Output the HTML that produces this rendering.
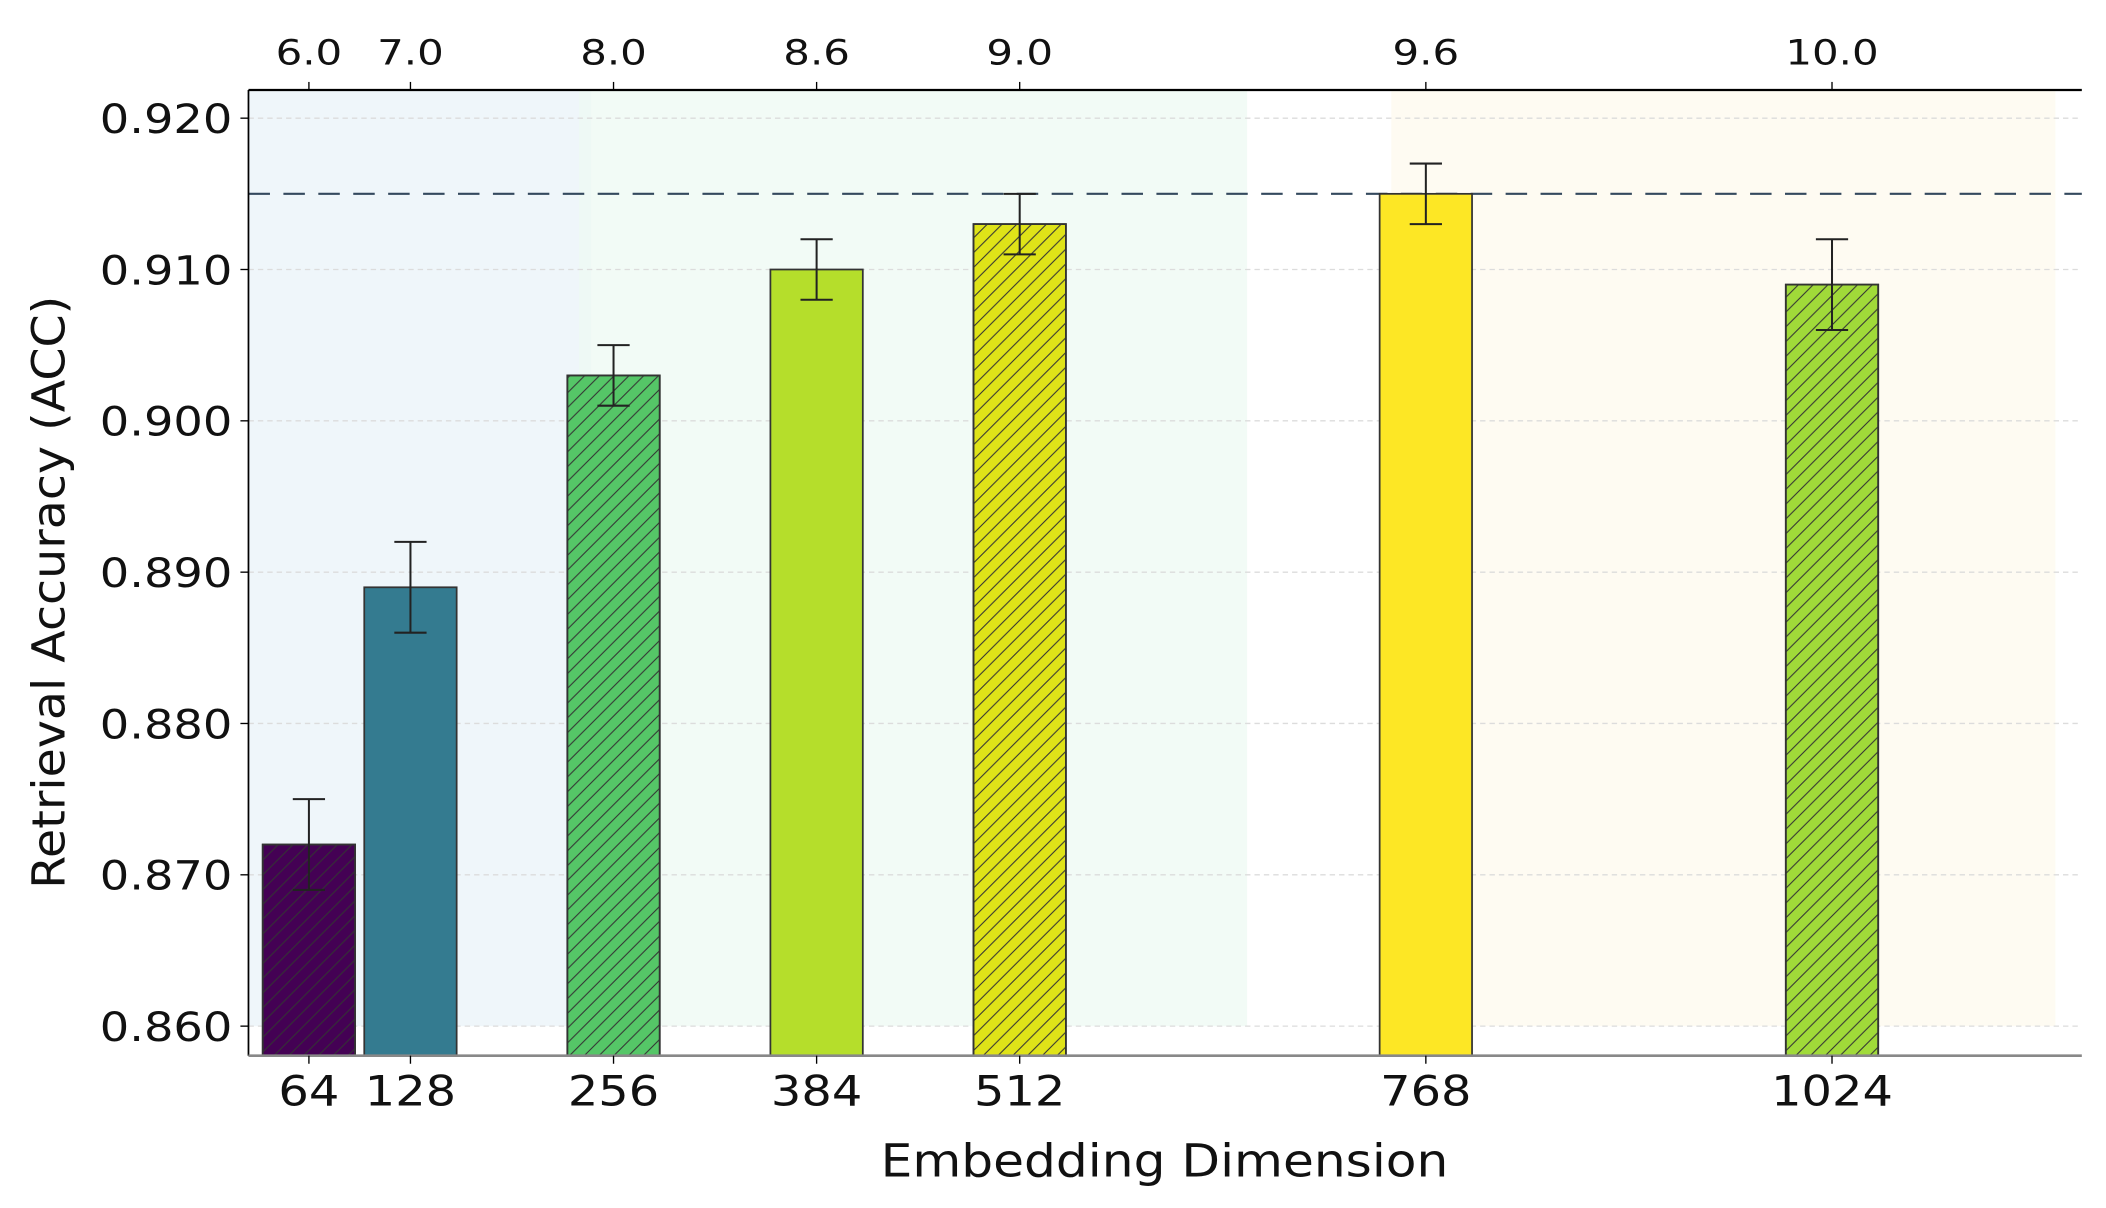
<!DOCTYPE html>
<html><head><meta charset="utf-8"><style>
html,body{margin:0;padding:0;background:#fff;}
svg{display:block;font-family:"DejaVu Sans","Liberation Sans",sans-serif;}
</style></head><body>
<svg id="chart" width="2106" height="1208" viewBox="0 0 1568 899.4" xmlns="http://www.w3.org/2000/svg">
<defs>
<pattern id="hatch" patternUnits="userSpaceOnUse" width="11" height="11">
<path d="M-1,1 l2,-2 M0,11 l11,-11 M10,12 l2,-2" stroke="#333" stroke-width="0.8"/>
</pattern>
</defs>
<g id="regions"></g>
<g id="grid"></g>
<g id="bars"></g>
<g id="axes"></g>
</svg>
<script>
const dims = [64, 128, 256, 384, 512, 768, 1024];
const accValues = [0.872, 0.889, 0.903, 0.910, 0.913, 0.915, 0.909];
const accErrors = [0.003, 0.003, 0.002, 0.002, 0.002, 0.002, 0.003];
const topLabels = ["6.0", "7.0", "8.0", "8.6", "9.0", "9.6", "10.0"];
const yTicks = [0.860, 0.870, 0.880, 0.890, 0.900, 0.910, 0.920];
const colors = ["#440154", "#347b90", "#55c667", "#b5de2b", "#dfe318", "#fde725", "#a0da39"];
const hatched = [true, false, true, false, true, false, true];
const refLine = 0.915;

const NS = "http://www.w3.org/2000/svg";
const L = 185, R = 1550, T = 67, B = 786;
const xUnit = 75.6, x0 = 230;
function xs(d) { return x0 + (d / 64 - 1) * xUnit; }
function ys(v) { return 764 - (v - 0.86) / 0.01 * 112.67; }
function mk(tag, attrs, parent) {
  const e = document.createElementNS(NS, tag);
  for (const k in attrs) e.setAttribute(k, attrs[k]);
  parent.appendChild(e);
  return e;
}
function stretch(t, f) {
  const w = t.getComputedTextLength();
  t.setAttribute('textLength', (w * f).toFixed(1));
  t.setAttribute('lengthAdjust', 'spacingAndGlyphs');
}
const regions = document.getElementById('regions');
const grid = document.getElementById('grid');
const bars = document.getElementById('bars');
const axes = document.getElementById('axes');

const regionSpans = [[0.4, 3.78, "#eaf3f8"], [3.66, 10.24, "#eef9f3"], [11.66, 18.2, "#fdf9ee"]];
regionSpans.forEach((r, i) => {
  const e = mk('rect', {x: x0 + (r[0] - 1) * xUnit, y: T, width: (r[1] - r[0]) * xUnit, height: ys(0.86) - T, fill: r[2], opacity: 0.75}, regions);
  
  
});

yTicks.forEach(v => {
  const e = mk('line', {x1: L, x2: R, y1: ys(v), y2: ys(v), stroke: "#dcdcdc", "stroke-width": 1, "stroke-dasharray": "4,3"}, grid);
  
  
});

const ref = mk('line', {x1: L, x2: R, y1: ys(refLine), y2: ys(refLine), stroke: "#34495e", "stroke-width": 1.6, "stroke-dasharray": "16,10"}, grid);



const bw = 0.91 * xUnit;
dims.forEach((d, i) => {
  const cx = xs(d), top = ys(accValues[i]);
  const g = mk('g', {}, bars);
  
  
  mk('rect', {x: cx - bw / 2, y: top, width: bw, height: B - top, fill: colors[i], stroke: "#333", "stroke-width": 1.3}, g);
  if (hatched[i]) mk('rect', {x: cx - bw / 2, y: top, width: bw, height: B - top, fill: "url(#hatch)", stroke: "#333", "stroke-width": 1.3}, g);
  const eb = mk('g', {stroke: "#222", "stroke-width": 1.5}, bars);
  
  
  const yH = ys(accValues[i] + accErrors[i]), yL = ys(accValues[i] - accErrors[i]);
  mk('line', {x1: cx, x2: cx, y1: yH, y2: yL}, eb);
  mk('line', {x1: cx - 12, x2: cx + 12, y1: yH, y2: yH}, eb);
  mk('line', {x1: cx - 12, x2: cx + 12, y1: yL, y2: yL}, eb);
});

mk('line', {x1: L, x2: L, y1: T, y2: B, stroke: "#000", "stroke-width": 1.3}, axes);
mk('line', {x1: L, x2: R, y1: T, y2: T, stroke: "#000", "stroke-width": 1.6}, axes);
mk('line', {x1: L, x2: R, y1: B, y2: B, stroke: "#888", "stroke-width": 2}, axes);

yTicks.forEach(v => {
  mk('line', {x1: L - 6, x2: L, y1: ys(v), y2: ys(v), stroke: "#000", "stroke-width": 1}, axes);
  const t = mk('text', {x: L - 12, y: ys(v) + 11, "text-anchor": "end", "font-size": 30, fill: "#111"}, axes);
  t.textContent = v.toFixed(3);
  
  
  stretch(t, 1.15);
});

dims.forEach((d, i) => {
  const cx = xs(d);
  mk('line', {x1: cx, x2: cx, y1: B, y2: B + 6, stroke: "#000", "stroke-width": 1}, axes);
  const t = mk('text', {x: cx, y: 823, "text-anchor": "middle", "font-size": 31, fill: "#111"}, axes);
  t.textContent = String(d);
  
  
  stretch(t, 1.15);
  mk('line', {x1: cx, x2: cx, y1: T - 6, y2: T, stroke: "#000", "stroke-width": 1}, axes);
  const t2 = mk('text', {x: cx, y: 48, "text-anchor": "middle", "font-size": 26, fill: "#111"}, axes);
  t2.textContent = topLabels[i];
  
  
  stretch(t2, 1.2);
});

const xl = mk('text', {x: 867, y: 876, "text-anchor": "middle", "font-size": 34, fill: "#111"}, axes);
xl.textContent = "Embedding Dimension";


stretch(xl, 1.1);
const yl = mk('text', {x: 0, y: 0, "text-anchor": "middle", "font-size": 34, fill: "#111", transform: "translate(48,441) rotate(-90)"}, axes);
yl.textContent = "Retrieval Accuracy (ACC)";


stretch(yl, 1.04);
</script>
</body></html>
